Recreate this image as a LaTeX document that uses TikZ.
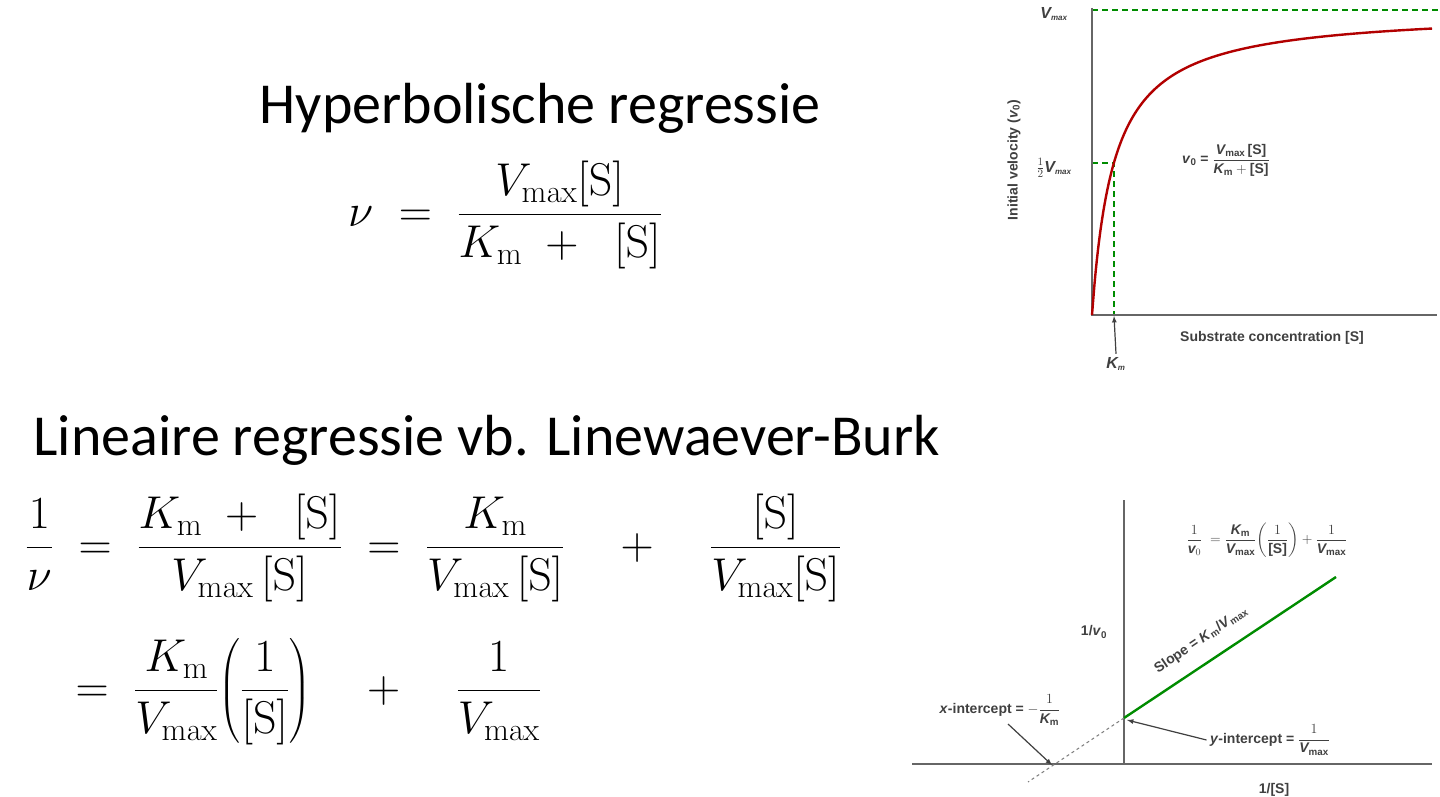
\RequirePackage{fix-cm}
\documentclass[tikz,border=0pt]{standalone}
\usepackage{amsmath}
\usepackage[no-math]{fontspec}
\setmainfont{Carlito}
\newfontfamily\plotfont{Liberation Sans}
\begin{document}
\begin{tikzpicture}[x=1pt,y=-1pt,
  big/.style={font=\fontsize{58}{68}\selectfont},
  eq/.style={font=\fontsize{46}{54}\selectfont},
  lab/.style={font=\plotfont\bfseries\fontsize{14}{16}\selectfont, text=black!75},
  ilab/.style={font=\plotfont\bfseries\itshape\fontsize{16}{18}\selectfont, text=black!75},
  axis/.style={draw=black!60, line width=2pt},
  gdash/.style={green!55!black, dash pattern=on 6pt off 4pt, line width=1.3pt},
  arr/.style={draw=black!75, line width=1.2pt, -latex}]
\useasboundingbox (0,0) rectangle (1440,797);
\fill[white] (0,0) rectangle (1440,797);
% left text
\node[big] (t1) at (540,108) {Hyperbolische regressie};
\node[eq] (e1) at (505,215) {$\nu\;=\;\dfrac{V_{\mathrm{max}}[\mathrm{S}]}{K_{\mathrm{m}}\;+\;\;[\mathrm{S}]}$};
\node[big,anchor=west] (t2) at (30,440) {Lineaire regressie vb. Linewaever-Burk};
\node[eq,anchor=west] (e2) at (22,548) {$\dfrac{1}{\nu}\;=\;\dfrac{K_{\mathrm{m}}\;+\;\;[\mathrm{S}]}{V_{\mathrm{max}}\,[\mathrm{S}]}\;=\;\dfrac{K_{\mathrm{m}}}{V_{\mathrm{max}}\,[\mathrm{S}]}\quad+\quad\dfrac{[\mathrm{S}]}{V_{\mathrm{max}}[\mathrm{S}]}$};
\node[eq,anchor=west] (e3) at (72,692) {$=\;\dfrac{K_{\mathrm{m}}}{V_{\mathrm{max}}}\!\left(\dfrac{1}{[\mathrm{S}]}\right)\quad+\quad\dfrac{1}{V_{\mathrm{max}}}$};
% top plot
\coordinate (o1) at (1092,315);
\draw[gdash] (1092,10) -- (1440,10);
\draw[gdash] (1092,163) -- (1114,163) -- (1114,315);
\draw[axis] (1092,8) -- (o1) -- (1437,315);
\draw[red!70!black, line width=2.4pt, domain=0:340, samples=120, smooth]
  plot ({1092+\x},{315-305*(\x/(22+\x))});
\node[ilab] (vm) at (1054,14) {V\textsubscript{\footnotesize max}};
\node[ilab] (vh) at (1054,168) {$\frac12$V\textsubscript{\footnotesize max}};
\node[lab, rotate=90] (yl) at (1014,160) {Initial velocity (\textit{v}\textsubscript{0})};
\node[lab] (eqp) at (1226,160) {\textit{v}\textsubscript{0} = $\dfrac{\textit{V}_{\text{max}}\,\text{[S]}}{\textit{K}_{\text{m}}+\text{[S]}}$};
\node[lab] (xl) at (1272,338) {Substrate concentration [S]};
\node[ilab] (km) at (1116,364) {K\textsubscript{\footnotesize m}};
\draw[arr] (km.north) -- (1114,316);
% bottom plot
\draw[axis] (912,764) -- (1432,764);
\draw[axis] (1124,500) -- (1124,764);
\coordinate (yi) at (1124,718);
\coordinate (xi) at (1052,765);
\draw[black!50, dashed, line width=1pt] (yi) -- (1028,782);
\draw[green!55!black, line width=2.4pt] (yi) -- (1336,577);
\node[lab] (eqb) at (1267,540) {$\dfrac{1}{\textit{v}_0}\ =\dfrac{\textit{K}_{\text{m}}}{\textit{V}_{\text{max}}}\!\left(\dfrac{1}{\text{[S]}}\right)+\dfrac{1}{\textit{V}_{\text{max}}}$};
\node[lab] (yl2) at (1094,632) {1/\textit{v}\textsubscript{0}};
\node[lab, rotate=34] (sl) at (1201,640) {Slope = \textit{K}\textsubscript{m}/\textit{V}\textsubscript{max}};
\node[lab] (xil) at (1000,710) {\textit{x}-intercept = $-\dfrac{1}{\textit{K}_{\text{m}}}$};
\node[lab] (yil) at (1270,740) {\textit{y}-intercept = $\dfrac{1}{\textit{V}_{\text{max}}}$};
\node[lab] (xl2) at (1274,790) {1/[S]};
\draw[arr] (1008,724) -- (xi);
\draw[arr] (yil.west) -- (1127,720);
\end{tikzpicture}
\end{document}
